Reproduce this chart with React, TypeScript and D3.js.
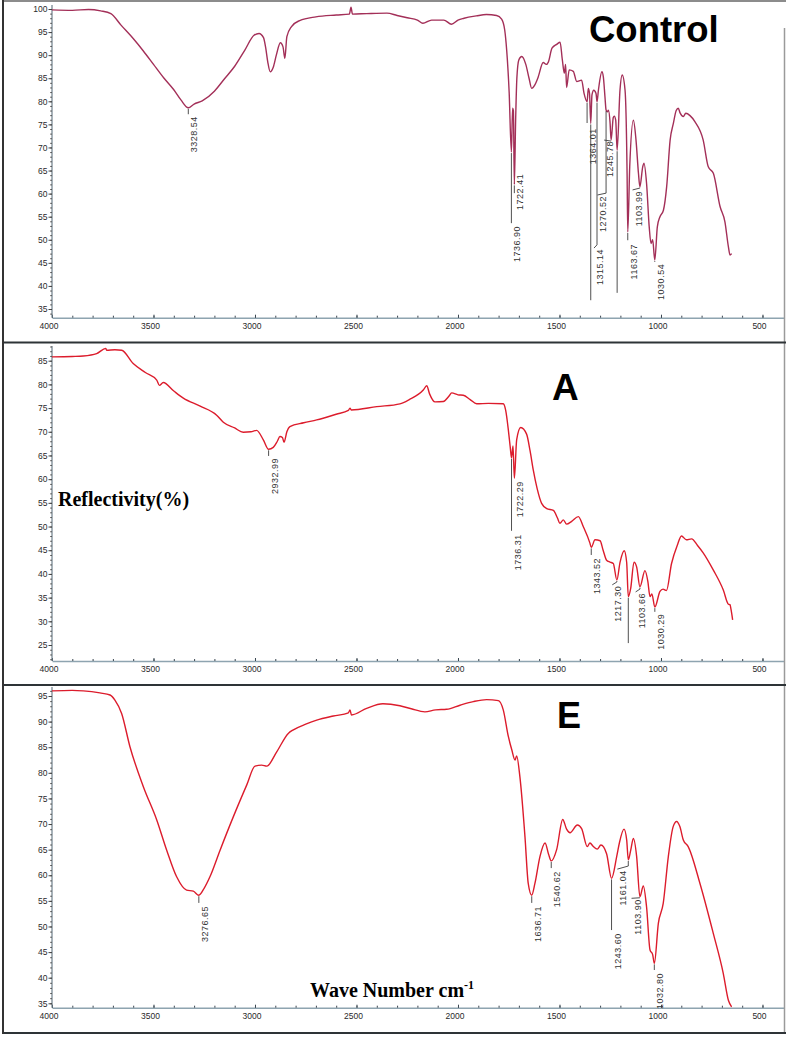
import React, { useEffect, useRef } from "react";
import * as d3 from "d3";

const width = 787;
const height = 1037;

// wavenumber tick labels (cm-1)
const xTicks = [4000, 3500, 3000, 2500, 2000, 1500, 1000, 500];

// ---- Control spectrum ----
const controlWave = [
  4000, 3900, 3820, 3760, 3710, 3660, 3600, 3550, 3500, 3450, 3400, 3365, 3328.54, 3300, 3260, 3200,
  3150, 3100, 3050, 3005, 2980, 2958, 2947, 2937, 2925, 2910, 2895, 2875, 2862, 2853, 2843, 2820,
  2780, 2700, 2600, 2535, 2527, 2520, 2450, 2350, 2300, 2250, 2200, 2173, 2130, 2070, 2032, 2000,
  1970, 1910, 1860, 1810, 1785, 1770, 1760, 1748, 1736.9, 1731, 1727, 1722.41, 1716, 1710, 1700, 1686,
  1666, 1650, 1637, 1622, 1607, 1580, 1565, 1555, 1537, 1512, 1497, 1486, 1476, 1470, 1465, 1452,
  1432, 1415, 1391, 1379, 1364.01, 1358, 1352, 1346, 1340, 1331, 1320, 1315.14, 1308, 1291, 1284, 1276,
  1270.52, 1264, 1259, 1251, 1245.78, 1235, 1230, 1223, 1216, 1202, 1191, 1177, 1167, 1163.67, 1154, 1136,
  1123, 1111, 1103.99, 1090, 1084, 1071, 1058, 1049, 1041, 1030.54, 1018, 1005, 988, 972, 955, 939,
  925, 915, 906, 890, 878, 857, 833, 792, 767, 742, 709, 685, 668, 660, 652,
];
const controlT = [
  99.8, 99.7, 99.9, 99.6, 99.0, 96.5, 93.6, 90.9, 88.0, 85.1, 82.5, 80.3, 78.6, 79.4, 80.1, 82.2,
  84.9, 87.6, 91.1, 94.3, 94.7, 93.8, 91.5, 88.5, 86.4, 87.4, 90.0, 92.7, 91.8, 89.3, 94.0, 96.2,
  97.5, 98.3, 98.7, 98.9, 100.4, 98.9, 99.0, 99.1, 98.6, 98.1, 97.6, 96.9, 97.6, 97.6, 96.7, 97.6,
  98.0, 98.5, 98.8, 98.6, 97.8, 95.5, 91.0, 82.0, 69.0, 78.5, 78.0, 62.0, 76.0, 85.0, 89.0, 89.7,
  88.0, 85.0, 82.8, 83.5, 85.0, 88.4, 88.0, 88.5, 91.5, 92.4, 92.8, 89.0, 86.1, 88.0, 83.0, 86.8,
  86.5, 84.3, 84.6, 81.7, 79.9, 82.8, 81.7, 75.2, 81.4, 82.4, 81.7, 79.9, 82.5, 86.4, 85.3, 81.0,
  78.1, 77.7, 78.1, 75.5, 71.6, 76.5, 76.8, 75.9, 69.4, 82.4, 85.7, 82.4, 64.4, 51.7, 65.8, 75.9,
  71.6, 64.4, 61.5, 65.8, 66.6, 62.2, 52.8, 49.2, 50.0, 45.6, 52.8, 55.0, 56.4, 61.5, 71.6, 75.2,
  78.0, 78.5, 77.5, 76.7, 77.4, 76.9, 75.6, 71.6, 65.8, 64.4, 57.2, 53.9, 48.5, 46.7, 47.0,
];
// [wavenumber, label, leader end (%), label top (%), label wavenumber]
const controlPeaks: [number, string, number, number, number?][] = [
  [3328.54, "3328.54", 77.2, 77.0],
  [1736.9, "1736.90", 53.6, 53.2],
  [1722.41, "1722.41", 60.1, 64.5],
  [1364.01, "1364.01", 75.3, 74.4],
  [1346, "", 36.9, 36.9],
  [1315.14, "1315.14", 48.9, 48.2, 1330],
  [1270.52, "1270.52", 60.1, 59.7, 1313],
  [1245.78, "1245.78", 72.0, 71.6, 1280],
  [1216, "", 38.5, 38.5],
  [1163.67, "1163.67", 49.9, 49.3],
  [1103.99, "1103.99", 61.2, 60.8, 1140],
  [1030.54, "1030.54", 45.2, 45.0],
];
const controlYTicks = [35, 40, 45, 50, 55, 60, 65, 70, 75, 80, 85, 90, 95, 100];

// ---- Sample A ----
const aWave = [
  4000, 3900, 3846, 3780, 3735, 3731, 3690, 3657, 3600, 3540, 3484, 3471, 3452, 3400, 3353, 3270,
  3189, 3156, 3100, 3058, 3020, 2992, 2959, 2932.99, 2910, 2890, 2877, 2865, 2857, 2843, 2828, 2760,
  2696, 2600, 2540, 2532, 2526, 2400, 2286, 2240, 2171, 2154, 2140, 2113, 2072, 2045, 2031, 2000,
  1974, 1940, 1908, 1850, 1777, 1765, 1752, 1742, 1736.31, 1729, 1722.29, 1711, 1691, 1662, 1645, 1629,
  1610, 1588, 1563, 1530, 1510, 1498, 1481, 1465, 1440, 1407, 1383, 1350, 1343.52, 1325, 1300, 1285,
  1268, 1251, 1235, 1217.3, 1202, 1181, 1169, 1161, 1149, 1133, 1120, 1103.66, 1079, 1065, 1054, 1045,
  1030.29, 1005, 990, 973, 948, 920, 899, 875, 849, 820, 793, 742, 693, 668, 660, 655, 647,
];
const aT = [
  85.8, 85.9, 86.0, 86.5, 87.6, 87.2, 87.3, 87.2, 84.4, 82.5, 80.9, 79.8, 80.4, 78.6, 77.1, 75.4,
  73.5, 72.0, 70.8, 69.9, 70.0, 70.3, 68.3, 66.3, 66.7, 68.0, 69.0, 68.8, 67.8, 70.0, 71.1, 71.9,
  72.5, 73.7, 74.5, 75.0, 74.6, 75.3, 75.9, 76.8, 78.8, 79.7, 78.0, 76.3, 76.4, 77.5, 78.2, 77.8,
  77.7, 76.8, 75.9, 76.0, 75.9, 74.5, 70.4, 66.5, 64.5, 67.0, 60.2, 68.3, 70.9, 69.5, 66.0, 61.9,
  58.0, 54.9, 53.8, 53.4, 51.8, 50.7, 51.4, 50.5, 51.1, 52.1, 50.0, 46.5, 45.6, 47.2, 47.0, 45.0,
  42.9, 42.5, 42.2, 38.7, 42.4, 44.9, 42.4, 35.2, 37.0, 42.5, 41.5, 37.3, 40.7, 38.5, 35.2, 35.8,
  33.0, 36.3, 36.8, 36.5, 42.2, 46.0, 48.0, 47.2, 47.4, 46.0, 44.5, 40.8, 36.6, 33.6, 33.5, 32.5, 30.3,
];
const aPeaks: [number, string, number, number, number?][] = [
  [2932.99, "2932.99", 64.9, 64.7],
  [1736.31, "1736.31", 49.1, 48.6],
  [1722.29, "1722.29", 60.0, 59.8],
  [1343.52, "1343.52", 44.0, 43.6],
  [1217.3, "1217.30", 38.3, 37.7, 1240],
  [1161, "", 25.4, 25.4],
  [1103.66, "1103.66", 36.8, 36.2, 1125],
  [1030.29, "1030.29", 32.0, 31.8],
];
const aYTicks = [25, 30, 35, 40, 45, 50, 55, 60, 65, 70, 75, 80, 85];

// ---- Sample E ----
const eWave = [
  4000, 3900, 3846, 3764, 3714, 3690, 3657, 3616, 3550, 3484, 3435, 3386, 3337, 3304, 3276.65, 3250,
  3222, 3172, 3107, 3041, 3000, 2967, 2942, 2893, 2836, 2811, 2750, 2696, 2614, 2540, 2532, 2525,
  2450, 2370, 2286, 2230, 2163, 2110, 2056, 1990, 1925, 1859, 1801, 1777, 1752, 1735, 1719, 1711,
  1695, 1670, 1654, 1636.71, 1621, 1596, 1571, 1553, 1540.62, 1514, 1484, 1465, 1448, 1412, 1391, 1363,
  1350, 1333, 1314, 1296, 1268, 1243.6, 1218, 1205, 1182, 1169, 1161.04, 1149, 1136, 1120, 1103.9, 1087,
  1071, 1054, 1041, 1032.8, 1013, 989, 964, 940, 923, 907, 890, 866, 808, 742, 693, 668, 652,
];
const eT = [
  96.0, 96.1, 96.0, 95.6, 95.2, 94.2, 91.6, 85.1, 77.3, 70.8, 64.9, 59.7, 57.1, 56.9, 56.1, 57.5,
  59.7, 64.9, 71.4, 77.6, 81.3, 81.5, 81.3, 84.1, 87.7, 88.4, 89.5, 90.3, 91.1, 91.7, 92.3, 91.3,
  92.6, 93.5, 93.1, 92.5, 91.9, 92.3, 92.4, 93.2, 93.9, 94.3, 94.1, 92.3, 87.1, 84.5, 82.5, 83.3,
  79.2, 67.5, 58.4, 56.1, 58.4, 63.7, 66.3, 64.0, 62.8, 65.0, 70.9, 69.0, 68.3, 69.8, 69.1, 65.6,
  66.3, 65.6, 65.1, 65.9, 64.2, 59.4, 63.7, 66.3, 69.0, 66.9, 63.0, 64.9, 67.2, 63.7, 55.8, 57.9,
  53.8, 45.4, 44.5, 42.8, 50.6, 54.5, 63.6, 69.5, 70.5, 69.5, 66.9, 65.6, 58.4, 48.6, 40.8, 35.6, 34.3,
];
const ePeaks: [number, string, number, number, number?][] = [
  [3276.65, "3276.65", 54.6, 54.2],
  [1636.71, "1636.71", 54.6, 54.2],
  [1540.62, "1540.62", 61.4, 61.0],
  [1243.6, "1243.60", 49.3, 48.9],
  [1161.04, "1161.04", 61.8, 61.2, 1215],
  [1103.9, "1103.90", 55.8, 55.5, 1145],
  [1032.8, "1032.80", 41.5, 41.1],
];
const eYTicks = [35, 40, 45, 50, 55, 60, 65, 70, 75, 80, 85, 90, 95];

const panels = [
  {
    wave: controlWave, t: controlT, peaks: controlPeaks, yTicks: controlYTicks,
    yRange: [309, 9], axisTop: 5, axisY: 317.7, color: "#a32f58",
    title: "Control", titleX: 589, titleY: 42, titleSize: 36.5,
  },
  {
    wave: aWave, t: aT, peaks: aPeaks, yTicks: aYTicks,
    yRange: [645, 360.7], axisTop: 346, axisY: 661, color: "#dc1c2c",
    title: "A", titleX: 552, titleY: 400, titleSize: 37,
  },
  {
    wave: eWave, t: eT, peaks: ePeaks, yTicks: eYTicks,
    yRange: [1003.3, 696], axisTop: 687, axisY: 1007.7, color: "#dc1c2c",
    title: "E", titleX: 557, titleY: 728, titleSize: 36,
  },
];

const valueAt = (wave: number[], t: number[], w: number) => {
  for (let i = 0; i < wave.length - 1; i++) {
    if (wave[i] >= w && wave[i + 1] <= w) {
      const f = (wave[i] - w) / (wave[i] - wave[i + 1]);
      return t[i] + f * (t[i + 1] - t[i]);
    }
  }
  return t[t.length - 1];
};

const App = () => {
  const ref = useRef<SVGSVGElement>(null);

  useEffect(() => {
    if (!ref.current) return;
    const svg = d3.select(ref.current);
    svg.selectAll("*").remove();

    svg.append("rect").attr("width", width).attr("height", height).attr("fill", "#fff");

    const x = d3.scaleLinear().domain([4000, 394]).range([52, 784]);

    panels.forEach((p) => {
      const yLo = p.yTicks[0];
      const yHi = p.yTicks[p.yTicks.length - 1];
      const y = d3.scaleLinear().domain([yLo, yHi]).range(p.yRange);
      const g = svg.append("g");

      // x axis: minor ticks + line
      const xMinor = g.append("g").attr("transform", `translate(0,${p.axisY})`)
        .call(d3.axisBottom(x).tickValues(d3.range(500, 4001, 100)).tickSize(-2).tickSizeOuter(0).tickFormat(() => ""));
      xMinor.select(".domain").attr("stroke", "#8ea4b0").attr("stroke-width", 1.6);
      xMinor.selectAll(".tick line").attr("stroke", "#3a4650");

      const xMajor = g.append("g").attr("transform", `translate(0,${p.axisY})`)
        .call(d3.axisBottom(x).tickValues(xTicks).tickSize(-3).tickSizeOuter(0).tickPadding(5).tickFormat(d3.format("d")));
      xMajor.select(".domain").remove();
      xMajor.selectAll(".tick line").attr("stroke", "#3a4650");
      xMajor.selectAll("text").attr("dx", -3.5).attr("fill", "#2a2a2a")
        .attr("font-family", "Liberation Sans, Arial, sans-serif").attr("font-size", 8.5);

      // y axis
      g.append("line").attr("x1", 52).attr("x2", 52).attr("y1", p.axisTop).attr("y2", p.axisY)
        .attr("stroke", "#6d7f8a").attr("stroke-width", 1.2);
      const yMinor = g.append("g").attr("transform", "translate(52,0)")
        .call(d3.axisLeft(y).tickValues(d3.range(Math.ceil(y.invert(p.axisY)), Math.floor(y.invert(p.axisTop)) + 1, 1))
          .tickSize(1.8).tickSizeOuter(0).tickFormat(() => ""));
      yMinor.select(".domain").remove();
      yMinor.selectAll(".tick line").attr("stroke", "#555");
      const yMajor = g.append("g").attr("transform", "translate(52,0)")
        .call(d3.axisLeft(y).tickValues(p.yTicks).tickSize(3.5).tickSizeOuter(0).tickPadding(1));
      yMajor.select(".domain").remove();
      yMajor.selectAll(".tick line").attr("stroke", "#444");
      yMajor.selectAll("text").attr("fill", "#2a2a2a")
        .attr("font-family", "Liberation Sans, Arial, sans-serif").attr("font-size", 8.5);

      // spectrum
      const line = d3.line<number>()
        .x((i) => x(p.wave[i]))
        .y((i) => y(p.t[i]))
        .curve(d3.curveMonotoneX);
      g.append("path").datum(d3.range(p.wave.length)).attr("d", line)
        .attr("fill", "none").attr("stroke", p.color).attr("stroke-width", 1.4)
        .attr("stroke-linejoin", "round");

      // peak labels
      p.peaks.forEach(([w, label, lineEnd, textTop, textWave]) => {
        const px = x(w);
        const yc = y(valueAt(p.wave, p.t, w));
        const tx = textWave !== undefined ? x(textWave) : px;
        const path = d3.path();
        path.moveTo(px, yc + 1);
        path.lineTo(px, Math.max(yc + 1, y(lineEnd)));
        if (textWave !== undefined) path.lineTo(tx, y(textTop));
        g.append("path").attr("d", path.toString()).attr("fill", "none")
          .attr("stroke", "#3c3c3c").attr("stroke-width", 0.9);
        if (label) {
          g.append("text")
            .attr("transform", `translate(${tx + 9},${y(textTop) + 1}) rotate(-90)`)
            .attr("text-anchor", "end")
            .attr("font-family", "Liberation Sans, Arial, sans-serif")
            .attr("font-size", 9)
            .attr("letter-spacing", 0.5)
            .attr("fill", "#333")
            .text(label);
        }
      });

      // panel title
      g.append("text").attr("x", p.titleX).attr("y", p.titleY)
        .attr("font-family", "Liberation Sans, Arial, sans-serif").attr("font-weight", "bold")
        .attr("font-size", p.titleSize).attr("fill", "#000").text(p.title);
    });

    // axis captions
    svg.append("text").attr("x", 58).attr("y", 505.7)
      .attr("font-family", "Liberation Serif, Times New Roman, serif").attr("font-weight", "bold")
      .attr("font-size", 20).attr("fill", "#000").text("Reflectivity(%)");
    const wn = svg.append("text").attr("x", 310).attr("y", 996.7)
      .attr("font-family", "Liberation Serif, Times New Roman, serif").attr("font-weight", "bold")
      .attr("font-size", 20).attr("fill", "#000");
    wn.append("tspan").text("Wave Number cm");
    wn.append("tspan").attr("dy", -8).attr("font-size", 12).text("-1");

    // frame
    const frame = svg.append("g").attr("fill", "none");
    frame.append("line").attr("x1", 784.5).attr("x2", 784.5).attr("y1", 28).attr("y2", 1033)
      .attr("stroke", "#9a9a9a").attr("stroke-width", 1.5);
    frame.append("line").attr("x1", 2).attr("x2", 786).attr("y1", 1).attr("y2", 1)
      .attr("stroke", "#666").attr("stroke-width", 1.5);
    [342.5, 685, 1033].forEach((yy) => {
      frame.append("line").attr("x1", 2).attr("x2", 786).attr("y1", yy).attr("y2", yy)
        .attr("stroke", "#2e3437").attr("stroke-width", 2.2);
    });
    frame.append("line").attr("x1", 3).attr("x2", 3).attr("y1", 0).attr("y2", 1034)
      .attr("stroke", "#333").attr("stroke-width", 2);
  }, []);

  return (
    <svg
      ref={ref}
      width={width}
      height={height}
      style={{ position: "absolute", left: 0, top: 0, display: "block" }}
    />
  );
};

export default App;
